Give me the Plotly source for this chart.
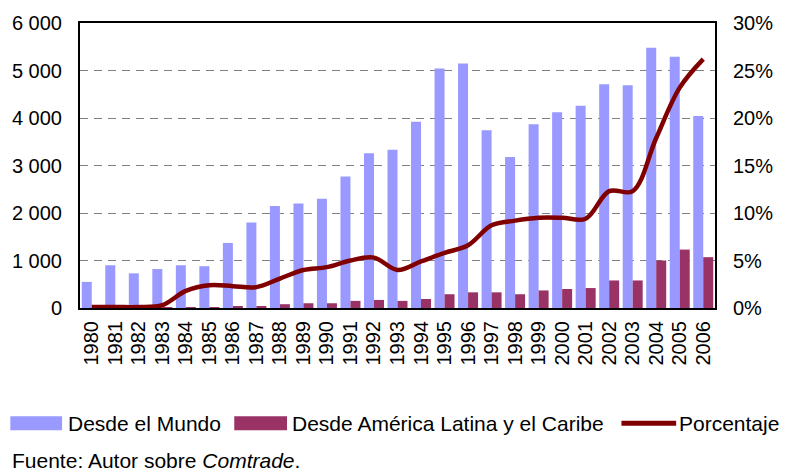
import plotly.graph_objects as go

years = [str(y) for y in range(1980, 2007)]

# millones de dólares
desde_mundo = [550, 900, 730, 820, 900, 880, 1370, 1800, 2150, 2200, 2300,
               2770, 3260, 3330, 3920, 5040, 5150, 3740, 3180, 3870, 4120,
               4260, 4710, 4690, 5480, 5290, 4040]
desde_alc = [5, 5, 5, 10, 15, 20, 25, 40, 80, 100, 100,
             150, 170, 150, 190, 290, 330, 330, 290, 370, 400,
             420, 580, 580, 1000, 1230, 1070]
# porcentaje
porcentaje = [0.1, 0.1, 0.1, 0.3, 1.8, 2.4, 2.3, 2.2, 3.1, 4.0, 4.3,
              5.0, 5.3, 4.0, 4.9, 5.8, 6.6, 8.7, 9.2, 9.5, 9.5,
              9.4, 12.3, 12.3, 17.9, 23.2, 26.2]

left_ticks = [0, 1000, 2000, 3000, 4000, 5000, 6000]
left_labels = ["0", "1 000", "2 000", "3 000", "4 000", "5 000", "6 000"]
right_ticks = [0, 5, 10, 15, 20, 25, 30]
right_labels = ["0%", "5%", "10%", "15%", "20%", "25%", "30%"]

MUNDO = "#9999FF"
ALC = "#993366"
LINEA = "#800000"
FONT = "Liberation Sans, Arial, sans-serif"

W, H = 785, 472
L, R, T, B = 80, 718, 21, 308


def px(x):
    return (x - L) / (R - L)


def py(y):
    return (B - y) / (B - T)


fig = go.Figure()

fig.add_trace(go.Bar(x=years, y=desde_mundo, name="Desde el Mundo",
                     marker=dict(color=MUNDO, line=dict(width=0)),
                     showlegend=False))
fig.add_trace(go.Bar(x=years, y=desde_alc, name="Desde América Latina y el Caribe",
                     marker=dict(color=ALC, line=dict(width=0)),
                     showlegend=False))
fig.add_trace(go.Scatter(x=years, y=porcentaje, name="Porcentaje", yaxis="y2",
                         mode="lines",
                         line=dict(color=LINEA, width=4.5, shape="spline", smoothing=1.0),
                         showlegend=False))

# custom legend + source
shapes = [
    dict(type="rect", xref="paper", yref="paper", x0=px(10), x1=px(62),
         y0=py(431), y1=py(417), fillcolor=MUNDO, line=dict(width=0)),
    dict(type="rect", xref="paper", yref="paper", x0=px(235), x1=px(288),
         y0=py(431), y1=py(417), fillcolor=ALC, line=dict(width=0)),
    dict(type="line", xref="paper", yref="paper", x0=px(624), x1=px(679),
         y0=py(424), y1=py(424), line=dict(color=LINEA, width=5)),
]
annotations = [
    dict(text="Desde el Mundo", x=px(66), y=py(424)),
    dict(text="Desde América Latina y el Caribe", x=px(291), y=py(424)),
    dict(text="Porcentaje", x=px(680), y=py(424)),
    dict(text="Fuente: Autor sobre <i>Comtrade</i>.", x=px(10), y=py(462)),
]
for a in annotations:
    a.update(xref="paper", yref="paper", xanchor="left", yanchor="middle",
             showarrow=False, font=dict(size=21, color="black", family=FONT))

fig.update_layout(
    width=W, height=H,
    margin=dict(l=L, r=W - R, t=T, b=H - B, pad=0),
    paper_bgcolor="white", plot_bgcolor="white",
    font=dict(family=FONT, size=20, color="black"),
    barmode="group", bargap=0.15, bargroupgap=0,
    shapes=shapes, annotations=annotations,
    xaxis=dict(type="category", tickangle=-90, showgrid=False,
               tickmode="array", tickvals=years, ticktext=years,
               showline=True, linecolor="black", linewidth=2, mirror=True,
               ticks="", tickfont=dict(size=20), ticklabelstandoff=3),
    yaxis=dict(range=[0, 6000], tickvals=left_ticks, ticktext=left_labels,
               showgrid=True, gridcolor="#808080", gridwidth=1, griddash="8px,6px",
               zeroline=False, showline=True, linecolor="black", linewidth=2,
               ticks="", ticklabelstandoff=12),
    yaxis2=dict(range=[0, 30], tickvals=right_ticks, ticktext=right_labels,
                overlaying="y", side="right", showgrid=False, zeroline=False,
                showline=True, linecolor="black", linewidth=2,
                ticks="", ticklabelstandoff=12),
)

fig.write_html("out.html", config={"displayModeBar": False},
               post_script="document.body.style.margin='0';"
                           "document.body.style.overflow='hidden';")
